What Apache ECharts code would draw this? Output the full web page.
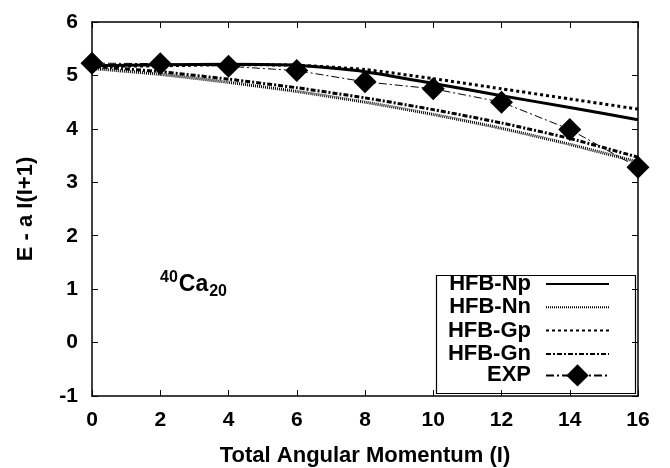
<!DOCTYPE html>
<html>
<head>
<meta charset="utf-8">
<script src="https://cdn.jsdelivr.net/npm/echarts@6/dist/echarts.min.js"></script>
<style>html,body{margin:0;padding:0;background:#fff;}#c{width:670px;height:468px;}</style>
</head>
<body>
<div id="c"></div>
<script>
const spins = [0, 2, 4, 6, 8, 10, 12, 14, 16];
const hfbNp = [5.18, 5.20, 5.21, 5.19, 5.07, 4.85, 4.62, 4.40, 4.17];
const hfbNn = [5.13, 5.02, 4.87, 4.70, 4.50, 4.27, 4.01, 3.71, 3.38];
const hfbGp = [5.17, 5.18, 5.20, 5.19, 5.11, 4.94, 4.75, 4.56, 4.37];
const hfbGn = [5.17, 5.07, 4.93, 4.77, 4.58, 4.36, 4.11, 3.82, 3.47];
const exp   = [5.23, 5.22, 5.17, 5.09, 4.88, 4.75, 4.50, 3.99, 3.28];
const seriesNames = ['HFB-Np', 'HFB-Nn', 'HFB-Gp', 'HFB-Gn', 'EXP'];
const xTicks = [0, 2, 4, 6, 8, 10, 12, 14, 16];
const yTicks = [-1, 0, 1, 2, 3, 4, 5, 6];

const pairs = arr => spins.map((s, i) => [s, arr[i]]);
const FONT = 'Liberation Sans';
const lbl = {color: '#000', fontFamily: FONT, fontWeight: 'bold', fontSize: 21};

const chart = echarts.init(document.getElementById('c'), null, {renderer: 'canvas'});
const axisCommon = {
  axisLine: {show: true, onZero: false, lineStyle: {color: '#000', width: 1.5}},
  axisTick: {show: true, inside: true, length: 6, lineStyle: {color: '#000', width: 1}},
  splitLine: {show: false}
};
function lineSeries(name, arr, lineStyle) {
  return {
    name, type: 'line', data: pairs(arr), smooth: 0.2,
    symbol: 'none', showSymbol: false, lineStyle: Object.assign({color: '#000'}, lineStyle),
    itemStyle: {color: '#000'}, z: 3, silent: true
  };
}
const rowCenters = [285, 308.3, 331.6, 354.9, 378.2];
const legends = seriesNames.map((n, i) => {
  const isExp = n === 'EXP';
  const h = isExp ? 28 : 24;
  return {
    orient: 'vertical', left: 421, top: rowCenters[i] - h / 2, padding: 0, align: 'right',
    itemWidth: 63, itemHeight: h, selectedMode: false,
    textStyle: {color: '#000', fontFamily: FONT, fontWeight: 'bold', fontSize: 22, lineHeight: 22,
      width: 110, align: 'right', padding: [0, 10, 0, 0]},
    data: [isExp ? {name: n} : {name: n, itemStyle: {opacity: 0}}]
  };
});
chart.setOption({
  animation: false,
  backgroundColor: '#fff',
  grid: {left: 92, right: 32, top: 22, bottom: 72, show: false, outerBoundsMode: 'none', containLabel: false},
  xAxis: [
    Object.assign({type: 'value', min: 0, max: 16, interval: 2, position: 'bottom',
      name: 'Total Angular Momentum (I)', nameLocation: 'middle', nameGap: 49,
      nameTextStyle: {color: '#000', fontFamily: FONT, fontWeight: 'bold', fontSize: 22},
      axisLabel: Object.assign({margin: 14, formatter: v => xTicks.includes(v) ? String(v) : ''}, lbl)}, axisCommon),
    Object.assign({type: 'value', min: 0, max: 16, interval: 2, position: 'top',
      axisLabel: {show: false}}, axisCommon)
  ],
  yAxis: [
    Object.assign({type: 'value', min: -1, max: 6, interval: 1, position: 'left',
      name: 'E - a I(I+1)', nameLocation: 'middle', nameGap: 55,
      nameTextStyle: {color: '#000', fontFamily: FONT, fontWeight: 'bold', fontSize: 22},
      axisLabel: Object.assign({margin: 14, formatter: v => yTicks.includes(v) ? String(v) : ''}, lbl)}, axisCommon),
    Object.assign({type: 'value', min: -1, max: 6, interval: 1, position: 'right',
      axisLabel: {show: false}}, axisCommon)
  ],
  legend: legends,
  graphic: [
    {type: 'rect', left: 434, top: 273, shape: {width: 199, height: 118},
      style: {fill: 'none', stroke: '#000', lineWidth: 1.2}, z: 1, silent: true},
    {type: 'text', left: 160, top: 270, z: 10, silent: true,
      style: {
        text: '{sup|40}{main|Ca}{sub|20}',
        rich: {
          sup: {fontFamily: FONT, fontWeight: 'bold', fontSize: 16, fill: '#000', verticalAlign: 'top', padding: [0, 1, 14, 0]},
          main: {fontFamily: FONT, fontWeight: 'bold', fontSize: 23, fill: '#000'},
          sub: {fontFamily: FONT, fontWeight: 'bold', fontSize: 16, fill: '#000', padding: [14, 0, 0, 1]}
        }
      }}
  ],
  series: [
    lineSeries('HFB-Np', hfbNp, {width: 3}),
    lineSeries('HFB-Nn', hfbNn, {width: 3, type: [1, 1]}),
    lineSeries('HFB-Gp', hfbGp, {width: 3, type: [3, 3]}),
    lineSeries('HFB-Gn', hfbGn, {width: 3, type: [5, 2, 2, 2]}),
    {
      name: 'EXP', type: 'line', data: pairs(exp), symbol: 'diamond', symbolSize: 23,
      showSymbol: true, clip: false,
      lineStyle: {color: '#000', width: 1, type: [8, 3, 2, 3]},
      itemStyle: {color: '#000'}, z: 4, silent: true
    }
  ]
});
</script>
</body>
</html>
